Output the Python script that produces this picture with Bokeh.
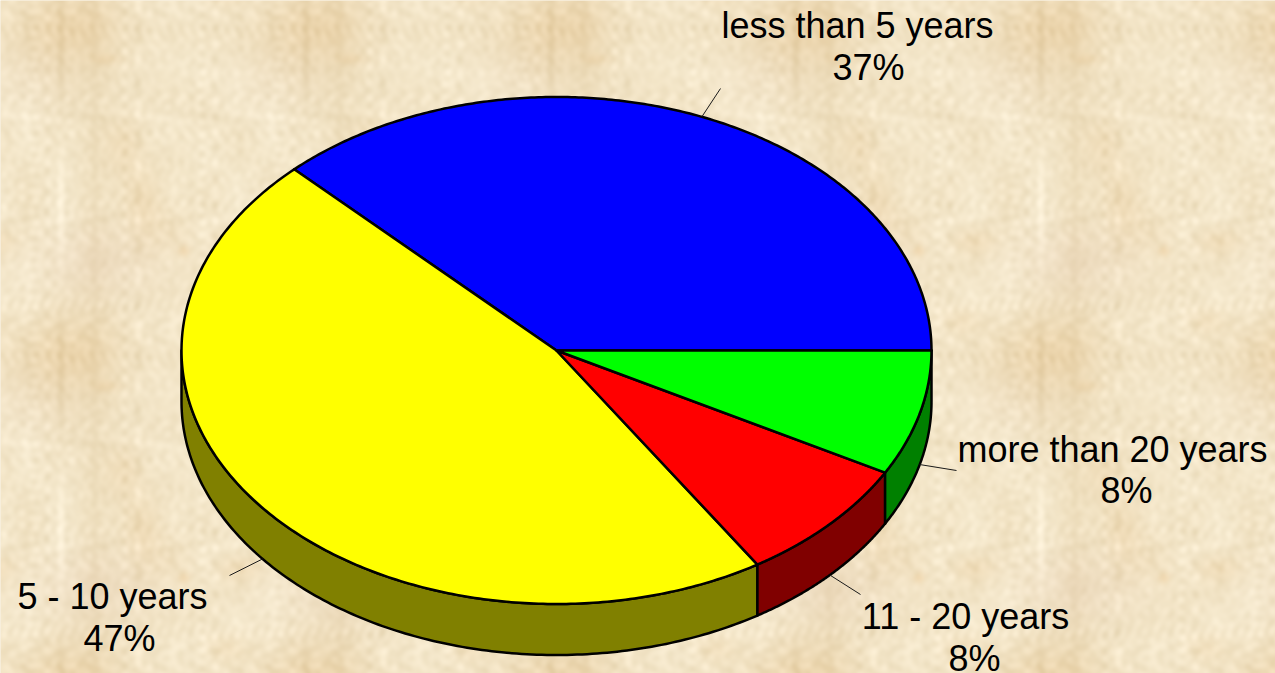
import numpy as np
from bokeh.core.properties import value
from bokeh.embed import file_html
from bokeh.models import ColumnDataSource, Range1d
from bokeh.plotting import figure
from bokeh.resources import INLINE

# Chart data
categories = ["less than 5 years", "5 - 10 years", "11 - 20 years", "more than 20 years"]
percent_labels = ["37%", "47%", "8%", "8%"]
shares = [37.33, 46.67, 8, 8]
top_colors = ["#0000ff", "#ffff00", "#ff0000", "#00ff00"]
side_colors = ["#000080", "#808000", "#800000", "#008000"]

# Layout (page pixels)
W, H = 1275, 673
CX, CY, RX, RY, DEPTH = 556.0, 350.0, 375.0, 253.5, 51.0
TEXT_SHIFT = 12.5
name_x = [857, 112, 965, 1112]
name_base = [37, 608, 628, 461]
pct_x = [868, 119, 974, 1126]
pct_base = [79, 650, 670, 502]
leader_end_x = [720, 229, 860, 956]
leader_end_y = [88, 575, 594, 470]


def Y(py):
    return H - np.asarray(py, dtype=float)


def parchment():
    tw, th = 245, 327
    yy, xx = np.mgrid[0:th, 0:tw]
    xx = xx.astype(float)
    yy = yy.astype(float)
    grain = np.zeros((th, tw))
    macro = np.zeros((th, tw))
    for fx in range(-26, 27):
        for fy in range(0, 34):
            f = np.hypot(fx, fy)
            if f < 1 or f > 34:
                continue
            ph = 2 * np.pi * (((fx + 31) * 0.6180339887 + (fy + 7) * 0.7548776662 + fx * fy * 0.137) % 1)
            wave = np.cos(2 * np.pi * (fx * xx / tw + fy * yy / th) + ph)
            if f <= 6:
                macro += wave / f
            elif ((fx * 37 + fy * 101 + fx * fy * 13) % 5) < 2:
                grain += wave / (1 + 0.12 * f)
    grain /= grain.std()
    macro /= macro.std()
    blot = np.zeros((th, tw))
    pink = np.zeros((th, tw))
    spots = [
        (70, 80, 36, 26, 0.75), (105, 112, 10, 4, 0.5), (122, 199, 12, 20, 0.5),
        (142, 254, 14, 24, 0.55), (183, 304, 4, 4, 0.9), (238, 294, 16, 9, 0.5),
        (226, 47, 15, 10, 0.5), (165, 290, 22, 22, 0.25),
    ]
    for sx, sy, gx, gy, a in spots:
        for ox in (-tw, 0, tw):
            for oy in (-th, 0, th):
                blot += a * np.exp(-((xx - sx - ox) / gx) ** 2 / 2 - ((yy - sy - oy) / gy) ** 2 / 2)
    for sx, sy, gx, gy, a in [(95, 314, 42, 26, 1.0), (30, 130, 35, 25, 0.4)]:
        for ox in (-tw, 0, tw):
            for oy in (-th, 0, th):
                pink += a * np.exp(-((xx - sx - ox) / gx) ** 2 / 2 - ((yy - sy - oy) / gy) ** 2 / 2)
    r = 243 + 2.6 * grain + 2.0 * macro - 5 * blot - 3 * pink
    g = 229 + 3.0 * grain + 3.0 * macro - 14 * blot - 6 * pink
    b = 199 + 4.0 * grain + 4.5 * macro - 24 * blot - 4 * pink
    tile = np.dstack([r, g, b]).clip(0, 255).astype(np.uint32)
    rows = (np.arange(H) + 54) % th
    cols = np.arange(W) % tw
    page = tile[np.ix_(rows, cols)]
    rgba = page[..., 0] | (page[..., 1] << 8) | (page[..., 2] << 16) | (255 << 24)
    return np.flipud(rgba).astype(np.uint32)


p = figure(width=W, height=H, x_range=Range1d(0, W), y_range=Range1d(0, H),
           output_backend="svg", toolbar_location=None, min_border=0)
p.axis.visible = False
p.grid.visible = False
p.outline_line_color = None
p.background_fill_color = "#f3e4c4"
p.border_fill_color = "#f3e4c4"

p.image_rgba(image=[parchment()], x=0, y=0, dw=W, dh=H)

# Slice angles, counter-clockwise from 3 o'clock
cum = np.cumsum([0] + shares) / sum(shares) * 2 * np.pi
starts, ends = cum[:-1], cum[1:]


def ex(t):
    return CX + RX * np.cos(t)


def ey(t):
    return CY - RY * np.sin(t)


# Side walls: only the part of each slice on the near half
for a0, a1, col in zip(starts, ends, side_colors):
    lo, hi = max(a0, np.pi), a1
    if hi <= lo:
        continue
    t = np.linspace(lo, hi, 160)
    xs = np.concatenate([ex(t), ex(t[::-1])])
    ys = np.concatenate([ey(t), ey(t[::-1]) + DEPTH])
    p.patch(xs, Y(ys), fill_color=col, line_color="black", line_width=2.5, line_join="round")

# Top faces
for a0, a1, col in zip(starts, ends, top_colors):
    t = np.linspace(a0, a1, 240)
    xs = np.concatenate([[CX], ex(t)])
    ys = np.concatenate([[CY], ey(t)])
    p.patch(xs, Y(ys), fill_color=col, line_color="black", line_width=2.5, line_join="round")

# Leader lines from each slice's mid-angle to its label
for a0, a1, ux, uy in zip(starts, ends, leader_end_x, leader_end_y):
    m = (a0 + a1) / 2
    drop = DEPTH if np.sin(m) < 0 else 0
    p.line([ex(m), ux], Y([ey(m) + drop, uy]), line_color="#1a1a1a", line_width=1)

source = ColumnDataSource(dict(
    x=name_x + pct_x,
    y=Y(name_base + pct_base) + TEXT_SHIFT,
    t=categories + percent_labels,
))
p.text("x", "y", text="t", source=source, text_align="center", text_baseline="alphabetic",
       text_font=value("Liberation Sans"), text_font_size="36px", text_color="black")

html = file_html(p, INLINE)
html = html.replace("<head>", "<head><style>html,body{margin:0;padding:0;overflow:hidden}</style>", 1)
open("out.html", "w").write(html)
